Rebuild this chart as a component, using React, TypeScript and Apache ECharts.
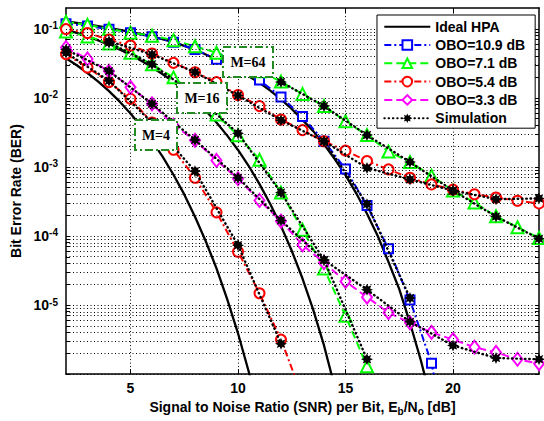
import { useEffect, useRef } from 'react';
import * as echarts from 'echarts';

// ---------- data (SNR in dB, BER) ----------
// Ideal HPA (theory) curves
const idealM4X = [2, 2.5, 3, 3.5, 4, 4.5, 5, 5.5, 6, 6.5, 7, 7.5, 8, 8.5, 9, 9.5, 10, 10.5, 11];
const idealM4Ber = [0.0375, 0.0297, 0.0229, 0.0172, 0.0125, 0.0088, 0.00595, 0.00386, 0.00239, 0.0014, 7.7e-4, 4.0e-4, 1.9e-4, 8.4e-5, 3.4e-5, 1.21e-5, 3.9e-6, 1.08e-6, 2.6e-7];
const idealM16X = [2, 2.5, 3, 3.5, 4, 4.5, 5, 5.5, 6, 6.5, 7, 7.5, 8, 8.5, 9, 9.5, 10, 10.5, 11, 11.5, 12, 12.5, 13, 13.5, 14, 14.5];
const idealM16Ber = [0.0976, 0.0874, 0.0775, 0.0678, 0.0586, 0.05, 0.0419, 0.0345, 0.0278, 0.022, 0.017, 0.01274, 0.00924, 0.0065, 0.00439, 0.00284, 0.00176, 0.00103, 5.64e-4, 2.9e-4, 1.39e-4, 6.1e-5, 2.42e-5, 8.5e-6, 2.6e-6, 6.5e-7];
const idealM64X = [2, 3, 4, 5, 6, 7, 8, 9, 9.5, 10, 10.5, 11, 11.5, 12, 12.5, 13, 13.5, 14, 14.5, 15, 15.5, 16, 16.5, 17, 17.5, 18, 18.5, 19];
const idealM64Ber = [0.128, 0.116, 0.103, 0.0905, 0.0775, 0.064, 0.05, 0.036, 0.031, 0.025, 0.0205, 0.0165, 0.0127, 0.0095, 0.0069, 0.0048, 0.0033, 0.00212, 0.0013, 7.6e-4, 4.15e-4, 2.1e-4, 1.0e-4, 4.2e-5, 1.7e-5, 5.5e-6, 1.6e-6, 4e-7];

// OBO = 10.9 dB (M=64)
const obo109X = [2, 3, 4, 5, 6, 7, 8, 9, 10, 11, 12, 13, 14, 15, 16, 17, 18, 19, 20];
const obo109Ber = [0.118, 0.11, 0.0984, 0.0877, 0.0769, 0.0641, 0.0501, 0.0361, 0.026, 0.0181, 0.0103, 0.00535, 0.00235, 9.36e-4, 2.77e-4, 6.52e-5, 1.18e-5, 1.44e-6, 4e-8];

// OBO = 7.1 dB (M=64 and M=16)
const obo71M64X = [2, 3, 4, 5, 6, 7, 8, 9, 10, 11, 12, 13, 14, 15, 16, 17, 18, 19, 20, 21, 22, 23, 24];
const obo71M64Ber = [0.126, 0.114, 0.1, 0.0877, 0.0794, 0.0685, 0.0558, 0.045, 0.0338, 0.0243, 0.0172, 0.0114, 0.0076, 0.00458, 0.00289, 0.00167, 0.00118, 7.44e-4, 4.54e-4, 3.06e-4, 1.93e-4, 1.34e-4, 9.36e-5];
const obo71M16X = [2, 3, 4, 5, 6, 7, 8, 9, 10, 11, 12, 13, 14, 15, 16];
const obo71M16Ber = [0.0915, 0.0776, 0.061, 0.045, 0.0306, 0.0198, 0.011, 0.00572, 0.00287, 0.00127, 4.25e-4, 1.23e-4, 3.38e-5, 6.97e-6, 1.3e-6];

// OBO = 5.4 dB (M=64 and M=4)
const obo54M64X = [2, 3, 4, 5, 6, 7, 8, 9, 10, 11, 12, 13, 14, 15, 16, 17, 18, 19, 20, 21, 22, 23, 24];
const obo54M64Ber = [0.099, 0.0868, 0.0697, 0.0572, 0.0439, 0.0321, 0.0235, 0.0169, 0.011, 0.0076, 0.00485, 0.00341, 0.00235, 0.00172, 0.00122, 9.2e-4, 6.97e-4, 5.58e-4, 4.69e-4, 4.02e-4, 3.61e-4, 3.23e-4, 2.96e-4];
const obo54M4X = [2, 3, 4, 5, 6, 7, 8, 9, 10, 11, 12, 13];
const obo54M4Ber = [0.043, 0.0275, 0.0169, 0.00968, 0.0044, 0.00177, 6.97e-4, 2.2e-4, 5.91e-5, 1.48e-5, 3.16e-6, 4.7e-7];

// OBO = 3.3 dB (M=16)
const obo33X = [2, 3, 4, 5, 6, 7, 8, 9, 10, 11, 12, 13, 14, 15, 16, 17, 18, 19, 20, 21, 22, 23, 24];
const obo33Ber = [0.0535, 0.0366, 0.0243, 0.0142, 0.0082, 0.00402, 0.00243, 0.00124, 6.74e-4, 3.27e-4, 1.64e-4, 7.43e-5, 4.11e-5, 2.2e-5, 1.3e-5, 7.76e-6, 5.53e-6, 4.02e-6, 3.16e-6, 2.45e-6, 2.06e-6, 1.64e-6, 1.42e-6];

// Simulation points
const simA_X = [14, 16, 18];
const simA_Ber = [0.00235, 2.89e-4, 1.26e-5];
const simB_X = [12, 14, 16, 18, 20, 22, 24];
const simB_Ber = [0.017, 0.0076, 0.00289, 0.00118, 4.54e-4, 1.91e-4, 9.14e-5];
const simC_X = [4, 6, 8, 10, 12, 14, 16, 18, 20, 22, 24];
const simC_Ber = [0.0659, 0.0425, 0.0235, 0.0108, 0.00474, 0.00235, 9.68e-4, 6.59e-4, 4.54e-4, 3.41e-4, 3.5e-4];
const simD_X = [4, 6, 8, 10, 12, 14, 16];
const simD_Ber = [0.063, 0.0306, 0.011, 0.00306, 4.25e-4, 4.5e-5, 1.64e-6];
const simE_X = [2, 4, 6, 8, 10, 12, 14, 16, 18, 20, 22, 24];
const simE_Ber = [0.0501, 0.0245, 0.0082, 0.00245, 6.97e-4, 1.68e-4, 4.5e-5, 1.67e-5, 5.72e-6, 2.6e-6, 1.71e-6, 1.64e-6];
const simF_X = [2, 4, 6, 8, 10, 12];
const simF_Ber = [0.045, 0.0177, 0.0044, 8.69e-4, 7.36e-5, 2.75e-6];

// axis ticks
const xTicks = [5, 10, 15, 20];
const yLabelExp = [-5, -4, -3, -2, -1];
const legendNames = ['Ideal HPA', 'OBO=10.9 dB', 'OBO=7.1 dB', 'OBO=5.4 dB', 'OBO=3.3 dB', 'Simulation'];

// ---------- helpers ----------
const FONT = 'Liberation Sans';
const pts = (xs: number[], ys: number[]) => xs.map((x, i) => [x, Math.log10(ys[i])]);

const starPath = (() => {
  let d = '';
  for (let i = 0; i < 16; i++) {
    const a = (i * Math.PI) / 8 - Math.PI / 2;
    const r = i % 2 === 0 ? 1 : 0.55;
    d += (i === 0 ? 'M' : 'L') + (Math.cos(a) * r).toFixed(3) + ',' + (Math.sin(a) * r).toFixed(3) + ' ';
  }
  return 'path://' + d + 'Z';
})();

const idealIcon = 'path://M0,0 L0.05,0 L0,0.05 Z M0,4 L46,4 L46,6 L0,6 Z M46,10 L45.95,10 L46,9.95 Z';

export default function App() {
  const ref = useRef<HTMLDivElement>(null);
  useEffect(() => {
    if (!ref.current) return;
    const chart = echarts.init(ref.current, undefined, { renderer: 'svg' });

    const yMin = -6;
    const yMax = Math.log10(0.2);

    const gridLines: any[] = [];
    for (let n = -6; n <= -1; n++) {
      gridLines.push({ yAxis: n });
      if (n <= -2) for (let k = 2; k <= 9; k++) gridLines.push({ yAxis: Math.log10(k * Math.pow(10, n)) });
    }
    xTicks.forEach((x) => gridLines.push({ xAxis: x }));

    const yTickVals: number[] = [];
    for (let n = -6; n <= -1; n++) {
      yTickVals.push(n);
      if (n <= -2) for (let k = 2; k <= 9; k++) yTickVals.push(Math.log10(k * Math.pow(10, n)));
    }

    const axisLine = { show: true, onZero: false, lineStyle: { color: '#000', width: 1.5 } };
    const labelStyle = { color: '#000', fontFamily: FONT, fontWeight: 'bold' as const, fontSize: 14 };

    const ideal = (xs: number[], ys: number[]) => ({
      name: 'Ideal HPA', type: 'line', data: pts(xs, ys), smooth: false,
      showSymbol: false, symbol: 'none', lineStyle: { color: '#000', width: 2.3 }, itemStyle: { color: '#000' }, z: 2,
    });
    const obo = (name: string, xs: number[], ys: number[], color: string, symbol: string, size: any, dash: number[]) => ({
      name, type: 'line', data: pts(xs, ys), symbol, symbolSize: size,
      lineStyle: { color, width: 2, type: dash }, itemStyle: { color, borderWidth: 2 }, z: 3,
    });
    const sim = (xs: number[], ys: number[]) => ({
      name: 'Simulation', type: 'line', data: pts(xs, ys), symbol: starPath, symbolSize: 12,
      lineStyle: { color: '#000', width: 2.4, type: [0.5, 3.8], cap: 'round' }, itemStyle: { color: '#000' }, z: 4,
    });

    const dashDot = [7, 3, 2, 3];
    const dashed = [8, 4];

    const boxes = [
      { x: 223, y: 47, w: 50, h: 30, t: 'M=64' },
      { x: 177, y: 83, w: 50, h: 30, t: 'M=16' },
      { x: 135, y: 120, w: 42, h: 30, t: 'M=4' },
    ];
    const graphic: any[] = [];
    boxes.forEach((b) => {
      graphic.push({
        type: 'rect', z: 10, shape: { x: b.x, y: b.y, width: b.w, height: b.h },
        style: { fill: '#fff', stroke: '#228B22', lineWidth: 2, lineDash: [8, 3, 2, 3] },
      });
      graphic.push({
        type: 'text', z: 11, x: b.x + b.w / 2, y: b.y + b.h / 2,
        style: {
          text: b.t, font: 'bold 14px "Liberation Serif"', fill: '#000',
          align: 'center', verticalAlign: 'middle', textAlign: 'center', textVerticalAlign: 'middle',
        },
      });
    });

    chart.setOption({
      animation: false,
      backgroundColor: '#fff',
      grid: { left: 66, top: 8, width: 473, height: 371 },
      xAxis: [
        {
          type: 'value', min: 2, max: 24, position: 'bottom', axisLine,
          axisTick: { show: true, inside: true, length: 5, customValues: xTicks, lineStyle: { color: '#000' } },
          axisLabel: { ...labelStyle, customValues: xTicks, margin: 7 },
          splitLine: { show: false },
          name: '{n|Signal to Noise Ratio (SNR) per Bit, E}{s|b}{n|/N}{s|o}{n| [dB]}',
          nameLocation: 'middle', nameGap: 22,
          nameTextStyle: {
            ...labelStyle,
            rich: {
              n: { ...labelStyle, lineHeight: 18 },
              s: { ...labelStyle, fontSize: 10, lineHeight: 10, verticalAlign: 'bottom' },
            },
          },
        },
        {
          type: 'value', min: 2, max: 24, position: 'top', axisLine,
          axisTick: { show: true, inside: true, length: 5, customValues: xTicks, lineStyle: { color: '#000' } },
          axisLabel: { show: false }, splitLine: { show: false },
        },
      ],
      yAxis: [
        {
          type: 'value', min: yMin, max: yMax, position: 'left', axisLine,
          axisTick: { show: true, inside: true, length: 4, customValues: yTickVals, lineStyle: { color: '#000' } },
          axisLabel: {
            customValues: yLabelExp, margin: 8,
            formatter: (v: number) => `{b|10}{s|${Math.round(v)}}`,
            rich: {
              b: { ...labelStyle, lineHeight: 16 },
              s: { ...labelStyle, fontSize: 10, lineHeight: 6, verticalAlign: 'top' },
            },
          },
          splitLine: { show: false },
          name: 'Bit Error Rate (BER)', nameLocation: 'middle', nameGap: 37,
          nameTextStyle: { ...labelStyle },
        },
        {
          type: 'value', min: yMin, max: yMax, position: 'right', axisLine,
          axisTick: { show: true, inside: true, length: 4, customValues: yTickVals, lineStyle: { color: '#000' } },
          axisLabel: { show: false }, splitLine: { show: false },
        },
      ],
      legend: {
        data: [
          { name: legendNames[0], icon: idealIcon, itemStyle: { color: '#000', borderWidth: 0 } },
          ...legendNames.slice(1),
        ],
        orient: 'vertical', left: 377, top: 15, itemWidth: 46, itemHeight: 12, itemGap: 4.3,
        padding: [4.7, 10, 3, 6.3], backgroundColor: '#fff', borderColor: '#000', borderWidth: 1,
        textStyle: { ...labelStyle, lineHeight: 14 }, selectedMode: false, z: 20,
      },
      graphic,
      series: [
        {
          type: 'line', data: [[2, -6]], symbol: 'none', lineStyle: { opacity: 0 }, silent: true, z: 1,
          markLine: {
            silent: true, symbol: ['none', 'none'], label: { show: false }, animation: false,
            lineStyle: { color: '#000', width: 1, type: [1, 2.5] }, emphasis: { disabled: true },
            data: gridLines,
          },
        },
        ideal(idealM4X, idealM4Ber),
        ideal(idealM16X, idealM16Ber),
        ideal(idealM64X, idealM64Ber),
        obo(legendNames[1], obo109X, obo109Ber, '#0000ff', 'emptyRect', 9, dashDot),
        obo(legendNames[2], obo71M64X, obo71M64Ber, '#00ff00', 'emptyTriangle', 12, dashed),
        obo(legendNames[2], obo71M16X, obo71M16Ber, '#00ff00', 'emptyTriangle', 12, dashed),
        obo(legendNames[3], obo54M64X, obo54M64Ber, '#ff0000', 'emptyCircle', 10, dashDot),
        obo(legendNames[3], obo54M4X, obo54M4Ber, '#ff0000', 'emptyCircle', 10, dashDot),
        obo(legendNames[4], obo33X, obo33Ber, '#ff00ff', 'emptyDiamond', [10, 13], dashed),
        sim(simA_X, simA_Ber),
        sim(simB_X, simB_Ber),
        sim(simC_X, simC_Ber),
        sim(simD_X, simD_Ber),
        sim(simE_X, simE_Ber),
        sim(simF_X, simF_Ber),
      ],
    });
    return () => chart.dispose();
  }, []);

  return (
    <div
      ref={ref}
      style={{ position: 'absolute', left: 0, top: 0, width: 544, height: 421, background: '#fff' }}
    />
  );
}
